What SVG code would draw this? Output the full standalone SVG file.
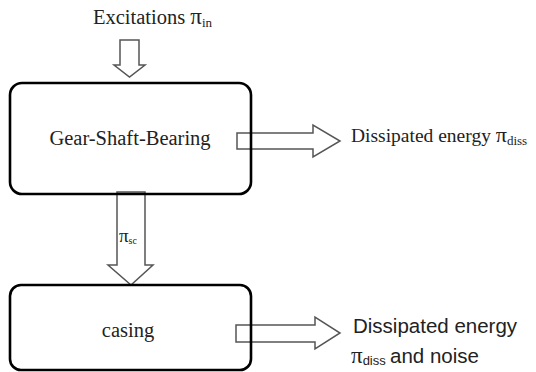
<svg xmlns="http://www.w3.org/2000/svg" width="536" height="372" viewBox="0 0 536 372">
<style>
.box{fill:none;stroke:#000;stroke-width:2.6}
.arr{fill:#fff;stroke:#555;stroke-width:1.5;stroke-linejoin:miter}
.serif{font-family:"Liberation Serif","Times New Roman",serif;fill:#222}
.sans{font-family:"Liberation Sans",Arial,sans-serif;fill:#222}
</style>
<rect width="536" height="372" fill="#fff"/>
<g id="connectors">
<path class="arr" d="M120,40 H139 V65 H145 L129.5,77 L114,65 H120 Z"/>
<path class="arr" d="M117,192 H145 V265 H153 L131,285 L108,265 H117 Z"/>
<path class="arr" d="M237,133 H313 V125 L340,141 L313,157 V149 H237 Z"/>
<path class="arr" d="M236,325 H315 V317 L340,333 L315,349 V342 H236 Z"/>
<text class="serif" x="119" y="242" font-size="19">π<tspan font-size="10" dy="2">sc</tspan></text>
</g>
<g id="excitations">
<text class="serif" x="93" y="24" font-size="20.5">Excitations <tspan font-size="23">π</tspan><tspan font-size="13" dy="3">in</tspan></text>
</g>
<g id="gear-shaft-bearing">
<rect class="box" x="10" y="83" width="241" height="111" rx="12"/>
<text class="serif" x="130" y="145" font-size="20.5" text-anchor="middle">Gear-Shaft-Bearing</text>
</g>
<g id="dissipated1">
<text class="serif" x="351" y="142" font-size="19.5">Dissipated energy <tspan font-size="22">π</tspan><tspan font-size="13" dy="3">diss</tspan></text>
</g>
<g id="casing">
<rect class="box" x="10" y="285" width="241" height="85" rx="11"/>
<text class="serif" x="128" y="337" font-size="20.5" text-anchor="middle">casing</text>
</g>
<g id="dissipated2">
<text class="sans" x="353" y="333" font-size="20.5">Dissipated energy</text>
<text x="351" y="363"><tspan class="serif" font-size="23">π</tspan><tspan class="sans" font-size="13" dy="2">diss</tspan><tspan class="sans" font-size="20.5" dy="-2" x="390">and noise</tspan></text>
</g>
</svg>
